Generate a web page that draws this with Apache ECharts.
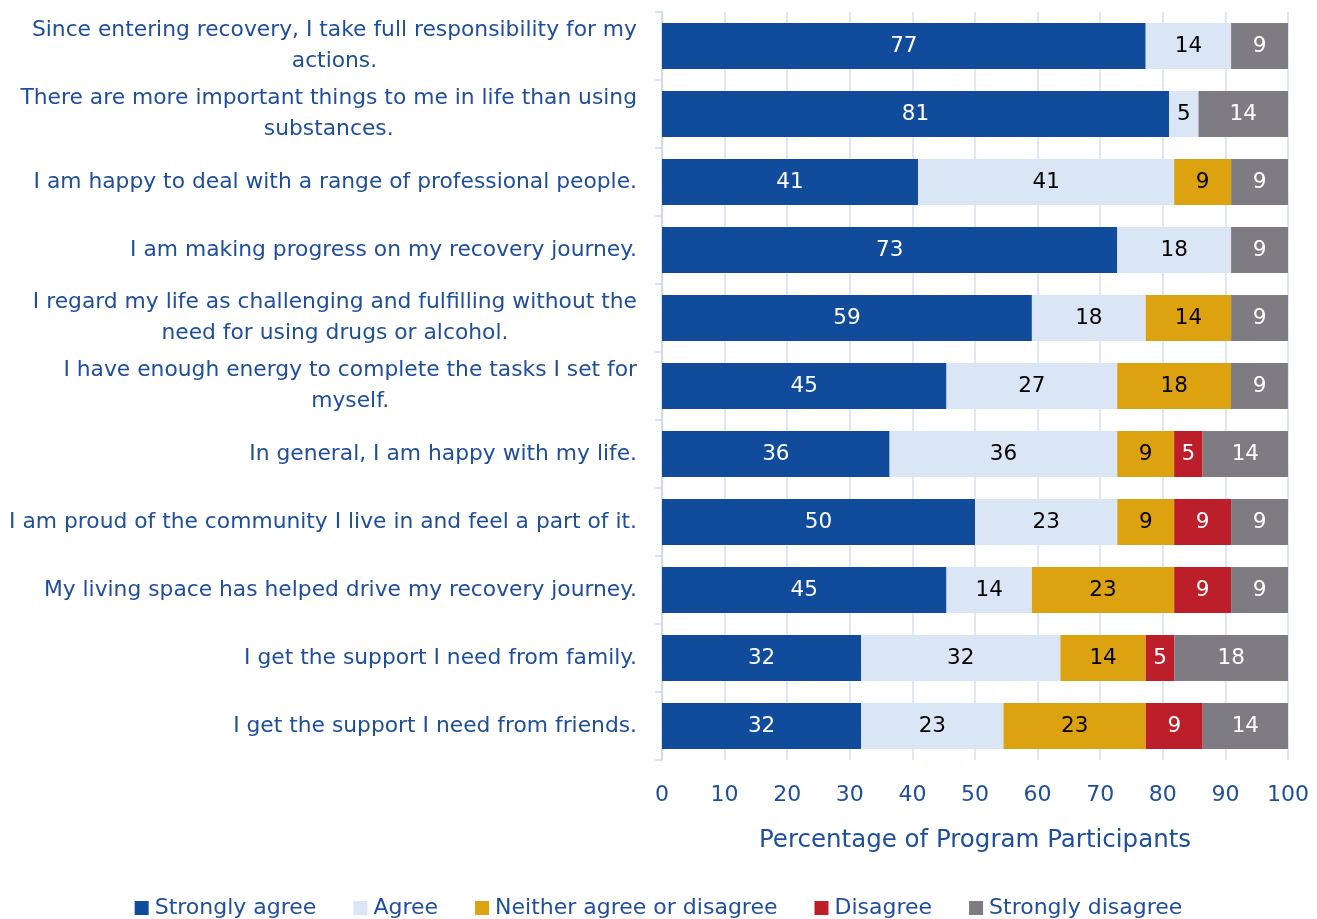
<!DOCTYPE html>
<html><head><meta charset="utf-8">
<script src="https://cdn.jsdelivr.net/npm/echarts@6/dist/echarts.min.js"></script>
<style>html,body{margin:0;padding:0;background:#fff}#c{width:1317px;height:919px}</style>
</head><body><div id="c"></div>
<script>
const categories = [
  "Since entering recovery, I take full responsibility for my\nactions.",
  "There are more important things to me in life than using\nsubstances.",
  "I am happy to deal with a range of professional people.",
  "I am making progress on my recovery journey.",
  "I regard my life as challenging and fulfilling without the\nneed for using drugs or alcohol.",
  "I have enough energy to complete the tasks I set for\nmyself.",
  "In general, I am happy with my life.",
  "I am proud of the community I live in and feel a part of it.",
  "My living space has helped drive my recovery journey.",
  "I get the support I need from family.",
  "I get the support I need from friends."
];
const stronglyAgree = [77.27, 81.0, 40.91, 72.73, 59.09, 45.45, 36.36, 50.00, 45.45, 31.82, 31.82];
const agree         = [13.64, 4.7, 40.91, 18.18, 18.18, 27.27, 36.36, 22.73, 13.64, 31.82, 22.73];
const neither       = [0, 0, 9.09, 0, 13.64, 18.18, 9.09, 9.09, 22.73, 13.64, 22.73];
const disagree      = [0, 0, 0, 0, 0, 0, 4.55, 9.09, 9.09, 4.55, 9.09];
const stronglyDis   = [9.09, 14.3, 9.09, 9.09, 9.09, 9.09, 13.64, 9.09, 9.09, 18.18, 13.64];
const xTicks = [0,10,20,30,40,50,60,70,80,90,100];

const FONT = "DejaVu Sans";
const TXT = "#1F4E9C";
function mk(name, data, color, labelColor){
  return {
    name, type:'bar', stack:'all', data, barWidth:46,
    itemStyle:{color},
    label:{show:true, position:'inside', color:labelColor, fontFamily:FONT, fontSize:21.5,
      formatter:p=> p.value>0 ? Math.round(p.value) : ''}
  };
}
const chart = echarts.init(document.getElementById('c'), null, {renderer:'canvas'});
chart.setOption({
  animation:false,
  grid:{left:662, right:29, top:12, bottom:159, containLabel:false},
  xAxis:{type:'value', min:0, max:100, interval:10,
    name:'Percentage of Program Participants', nameLocation:'middle', nameGap:68,
    nameTextStyle:{color:TXT, fontFamily:FONT, fontSize:24.5},
    axisLine:{show:false}, axisTick:{show:false},
    axisLabel:{color:TXT, fontFamily:FONT, fontSize:22, margin:24, formatter:v=>String(v)},
    splitLine:{show:true, lineStyle:{color:'#D3DFF2', width:1.5}}
  },
  yAxis:{type:'category', data:categories, inverse:true,
    axisLine:{show:true, lineStyle:{color:'#C9D7EE', width:1.5}},
    axisTick:{show:true, length:7, alignWithLabel:false, lineStyle:{color:'#C9D7EE', width:1.5}},
    axisLabel:{margin:25, fontFamily:FONT, fontSize:21.8, color:TXT,
      formatter:v=>{
        const parts = v.split('\n');
        if(parts.length===1) return '{a|'+v+'}';
        return '{a|'+parts[0]+'}\n{c|'+parts[1]+'}';
      },
      rich:{a:{fontFamily:FONT, fontSize:21.8, color:TXT, lineHeight:31},
            c:{fontFamily:FONT, fontSize:21.8, color:TXT, lineHeight:31, align:'center'}}
    }
  },
  legend:{bottom:-5, left:'center', itemWidth:14, itemHeight:14, itemGap:37, icon:'rect',
    textStyle:{color:TXT, fontFamily:FONT, fontSize:22, padding:[0,0,0,1]}},
  series:[
    mk('Strongly agree', stronglyAgree, '#114C9C', '#fff'),
    mk('Agree', agree, '#DAE5F5', '#000'),
    mk('Neither agree or disagree', neither, '#DDA20F', '#000'),
    mk('Disagree', disagree, '#BC1F29', '#fff'),
    mk('Strongly disagree', stronglyDis, '#7F7B82', '#fff')
  ]
});
</script></body></html>
